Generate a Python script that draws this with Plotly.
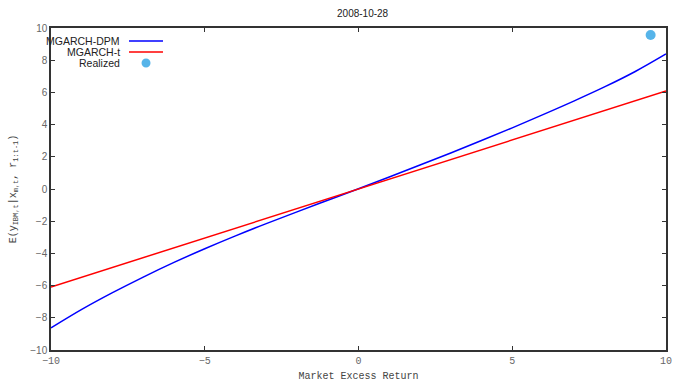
import plotly.graph_objects as go

# Data
x_grid = [-10, -9, -8, -7, -6, -5, -4, -3, -2, -1, 0, 1, 2, 3, 4, 5, 6, 7, 8, 9, 10]
dpm_vals = [-8.63, -7.48, -6.44, -5.47, -4.56, -3.71, -2.91, -2.15, -1.42, -0.70, 0.02,
            0.75, 1.49, 2.24, 3.01, 3.80, 4.62, 5.46, 6.34, 7.30, 8.39]
t_vals = [-6.09, -5.48, -4.87, -4.26, -3.65, -3.05, -2.44, -1.83, -1.22, -0.61, 0.0,
          0.61, 1.22, 1.83, 2.44, 3.05, 3.65, 4.26, 4.87, 5.48, 6.09]
realized_x = [9.5]
realized_y = [9.57]
series_names = ["MGARCH-DPM", "MGARCH-t", "Realized"]
x_ticks = [-10, -5, 0, 5, 10]
y_ticks = [-10, -8, -6, -4, -2, 0, 2, 4, 6, 8, 10]

BLUE = "#0000FF"
RED = "#FF0000"
CYAN = "#56B4E9"

fig = go.Figure()
fig.add_trace(go.Scatter(x=x_grid, y=dpm_vals, mode="lines", name=series_names[0],
                         line=dict(color=BLUE, width=1.5, shape="spline", smoothing=1.0),
                         showlegend=False))
fig.add_trace(go.Scatter(x=x_grid, y=t_vals, mode="lines", name=series_names[1],
                         line=dict(color=RED, width=1.5), showlegend=False))
fig.add_trace(go.Scatter(x=realized_x, y=realized_y, mode="markers", name=series_names[2],
                         marker=dict(color=CYAN, size=10), showlegend=False, cliponaxis=False))

# Gnuplot-style legend (text right-aligned, sample to the right)
rows = [0.9596, 0.9255, 0.8913]
text_right = 0.1154
for name, yy in zip(series_names, rows):
    fig.add_annotation(xref="paper", yref="paper", x=text_right, y=yy, text=name,
                       showarrow=False, xanchor="right", yanchor="middle",
                       font=dict(family="Liberation Sans, Arial", size=10.5, color="#222"))
fig.add_shape(type="line", xref="paper", yref="paper", x0=0.1268, x1=0.1821, y0=rows[0], y1=rows[0],
              line=dict(color=BLUE, width=1.5))
fig.add_shape(type="line", xref="paper", yref="paper", x0=0.1268, x1=0.1821, y0=rows[1], y1=rows[1],
              line=dict(color=RED, width=1.5))
fig.add_shape(type="circle", xref="paper", yref="paper", x0=0.1545 - 0.0073, x1=0.1545 + 0.0073,
              y0=rows[2] - 0.014, y1=rows[2] + 0.014, fillcolor=CYAN, line=dict(width=0))

mono = "Liberation Mono, Courier New, monospace"
fig.update_layout(
    width=674, height=382,
    margin=dict(l=51, r=8, t=28, b=32, autoexpand=False),
    plot_bgcolor="white", paper_bgcolor="white",
    title=dict(text="2008-10-28", x=0.538, xanchor="center", y=0.975, yanchor="top",
               automargin=False,
               font=dict(family="Liberation Sans, Arial", size=10, color="#222")),
    xaxis=dict(range=[-10, 10], tickvals=x_ticks, ticks="inside", ticklen=4, tickcolor="#333",
               showline=True, linecolor="#333", linewidth=1.5, mirror="ticks", showgrid=False,
               zeroline=False, automargin=False,
               tickfont=dict(family=mono, size=10, color="#666"),
               title=dict(text="Market Excess Return", standoff=8,
                          font=dict(family=mono, size=10, color="#444"))),
    yaxis=dict(range=[-10, 10], tickvals=y_ticks, ticks="inside", ticklen=4, tickcolor="#333",
               showline=True, linecolor="#333", linewidth=1.5, mirror="ticks", showgrid=False,
               zeroline=False, automargin=False,
               tickfont=dict(family="Liberation Sans, Arial", size=10, color="#666"),
               title=dict(text="E(y<sub>IBM,t</sub>|x<sub>m,t</sub>, r<sub>1:t-1</sub>)", standoff=12,
                          font=dict(family=mono, size=10, color="#444"))),
)

fig.write_html("out.html", config={"displayModeBar": False},
               post_script="document.body.style.margin='0';document.body.style.overflow='hidden';")
